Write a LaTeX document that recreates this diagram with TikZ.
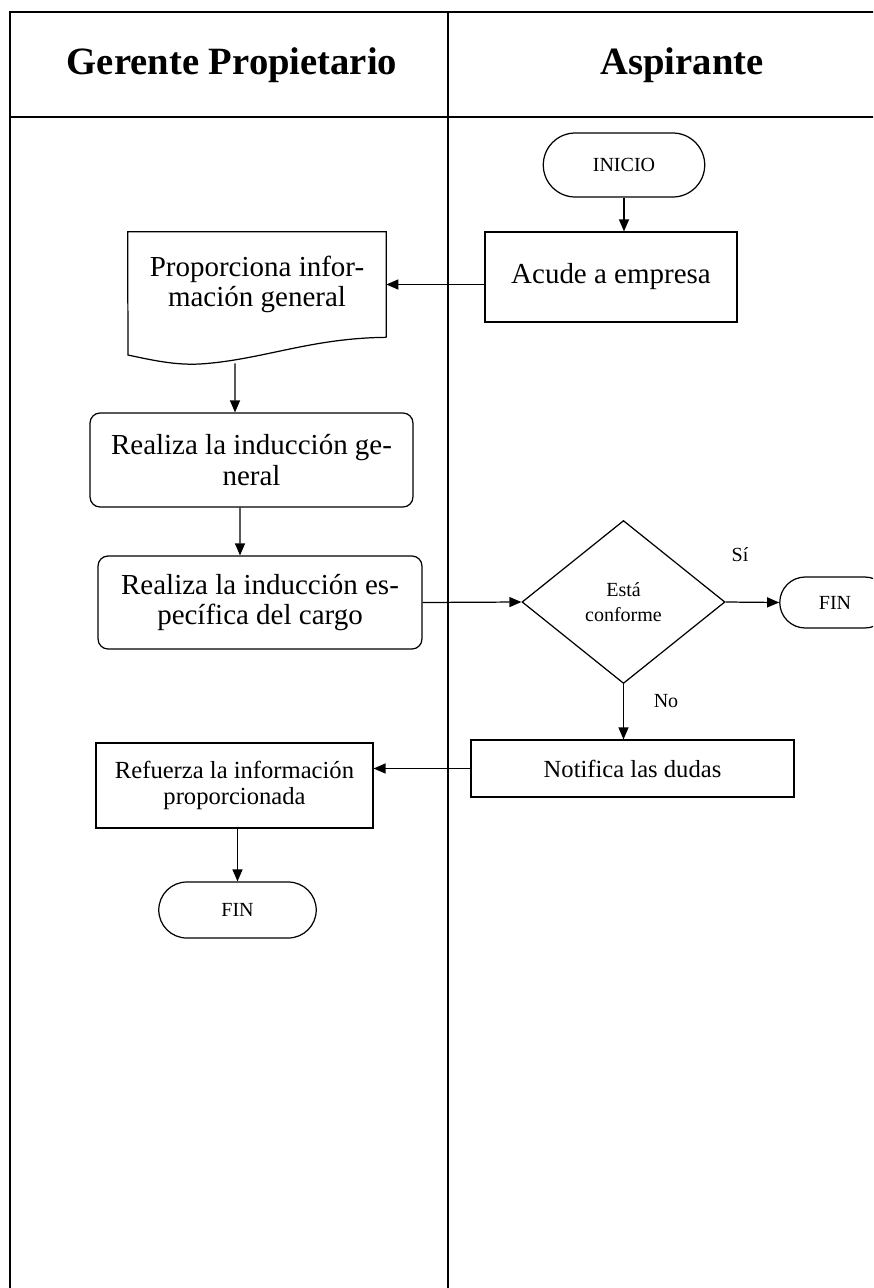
\documentclass[tikz,border=0pt]{standalone}
\usepackage{fontspec}
\setmainfont{Liberation Serif}
\usetikzlibrary{arrows.meta,shapes.geometric,shapes.misc}

\begin{document}
\begin{tikzpicture}[x=0.02cm, y=-0.02cm,
    linea/.style={line width=0.7pt},
    marco/.style={line width=1.1pt},
    flecha/.style={linea, -{Triangle[length=0.24cm, width=0.2cm]}},
    grande/.style={font=\fontsize{16.5}{17.5}\selectfont},
    media/.style={font=\fontsize{14}{14.4}\selectfont},
    chica/.style={font=\fontsize{11.4}{14.2}\selectfont},
    titulo/.style={font=\bfseries\fontsize{22}{24}\selectfont},
    caja/.style={draw, linea, rectangle, align=center, inner sep=1pt},
    redonda/.style={caja, rounded corners=0.2cm},
    terminal/.style={draw, linea, rounded rectangle, chica, inner sep=1pt}]
    \useasboundingbox (0,0) rectangle (873,1288);
    \clip (0,0) rectangle (873,1288);
    \draw[marco] (10,12) rectangle (916,1300);
    \draw[marco] (448,12) -- (448,1300);
    \draw[marco] (10,117) -- (916,117);

    \node[titulo] (gerente) at (232,65) {Gerente Propietario};
    \node[titulo] (aspirante) at (682,65) {Aspirante};

    \node[terminal, minimum width=3.3cm, minimum height=1.28cm] (inicio) at (624,165) {INICIO};
    \node[caja, grande, minimum width=5.04cm, minimum height=1.8cm] (acude) at (611,277) {Acude a empresa};
    \node[grande, align=center, minimum width=5.16cm, minimum height=2.1cm] (doc) at (257,284.5) {Proporciona infor-\\mación general};
    \draw[linea] (doc.south east) -- (doc.north east) -- (doc.north west) -- (128,355) .. controls (160,362) and (178,365) .. (200,364) .. controls (262,360) and (310,338) .. (doc.south east);
    \node[redonda, grande, minimum width=6.46cm, minimum height=1.88cm] (general) at (251.5,460) {Realiza la inducción ge-\\neral};
    \node[redonda, grande, minimum width=6.48cm, minimum height=1.86cm] (especifica) at (260,602.5) {Realiza la inducción es-\\pecífica del cargo};
    \node[draw, linea, diamond, chica, align=center, minimum width=4.06cm, minimum height=3.26cm, inner sep=0pt] (conforme) at (623.5,602) {Está\\conforme};
    \node[terminal, minimum width=2.28cm, minimum height=1.02cm] (finsi) at (835,602.5) {FIN};
    \node[chica] (si) at (740,555) {Sí};
    \node[chica] (no) at (666,701) {No};
    \node[caja, media, minimum width=6.46cm, minimum height=1.14cm] (notifica) at (632.5,768.5) {Notifica las dudas};
    \node[caja, media, minimum width=5.54cm, minimum height=1.7cm] (refuerza) at (234.5,785.5) {Refuerza la información\\proporcionada};
    \node[terminal, minimum width=3.22cm, minimum height=1.12cm] (finref) at (237.5,910) {FIN};

    \draw[flecha] (inicio.south) -- (inicio.south |- acude.north);
    \draw[flecha] (acude.west |- doc.east) -- (doc.east);
    \draw[flecha] ([xshift=-0.44cm,yshift=-0.52cm]doc.south) -- ([xshift=-0.33cm]general.north);
    \draw[flecha] ([xshift=-0.23cm]general.south) -- ([xshift=-0.4cm]especifica.north);
    \draw[flecha] (especifica.east) -- (conforme.west);
    \draw[flecha] (conforme.east) -- (finsi.west);
    \draw[flecha] (conforme.south) -- (conforme.south |- notifica.north);
    \draw[flecha] (notifica.west) -- (notifica.west -| refuerza.east);
    \draw[flecha] (finref.north |- refuerza.south) -- (finref.north);
\end{tikzpicture}
\end{document}
